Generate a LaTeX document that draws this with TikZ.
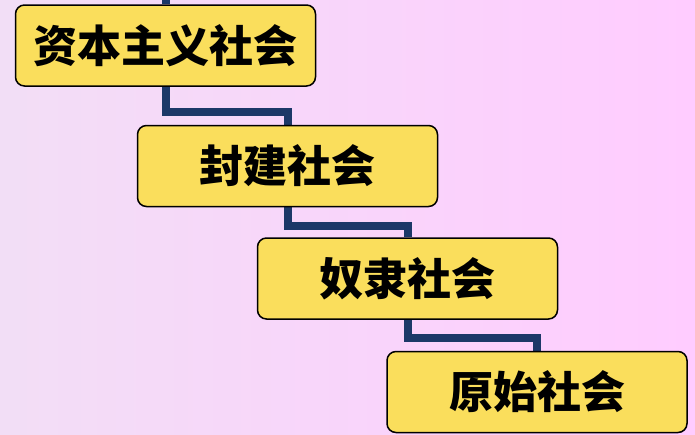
\documentclass[tikz,border=0pt]{standalone}
\usepackage{fontspec}
\usetikzlibrary{backgrounds}
\newfontfamily\cjk{Noto Sans CJK SC}
\definecolor{boxyellow}{RGB}{250,222,92}
\definecolor{navy}{RGB}{28,56,104}
\definecolor{bgleft}{RGB}{242,222,246}
\definecolor{bgright}{RGB}{255,204,255}
\tikzset{
  stage/.style={draw=black, line width=1.5pt, fill=boxyellow, rounded corners=9pt,
    minimum width=300pt, minimum height=81pt, inner sep=0pt,
    font=\cjk\bfseries\fontsize{44pt}{48pt}\selectfont},
  link/.style={draw=navy, line width=8pt}
}
\begin{document}
\begin{tikzpicture}[x=1pt,y=-1pt]
\useasboundingbox (0,0) rectangle (695,434);
\node[stage] (b1) at (165.5,45.5) {资本主义社会};
\node[stage] (b2) at (287.5,166) {封建社会};
\node[stage] (b3) at (407.5,278.5) {奴隶社会};
\node[stage] (b4) at (537,392) {原始社会};
\coordinate (top) at (165.5,0);
\coordinate (m1) at (0,112);
\coordinate (m2) at (0,226);
\coordinate (m3) at (0,338);
\begin{pgfonlayer}{background}
\fill[left color=bgleft, right color=bgright] (0,0) rectangle (695,434);
\draw[link] (top) -- (b1.north);
\draw[link] (b1.south) -- (b1.south |- m1) -| (b2.north);
\draw[link] (b2.south) -- (b2.south |- m2) -| (b3.north);
\draw[link] (b3.south) -- (b3.south |- m3) -| (b4.north);
\end{pgfonlayer}
\end{tikzpicture}
\end{document}
